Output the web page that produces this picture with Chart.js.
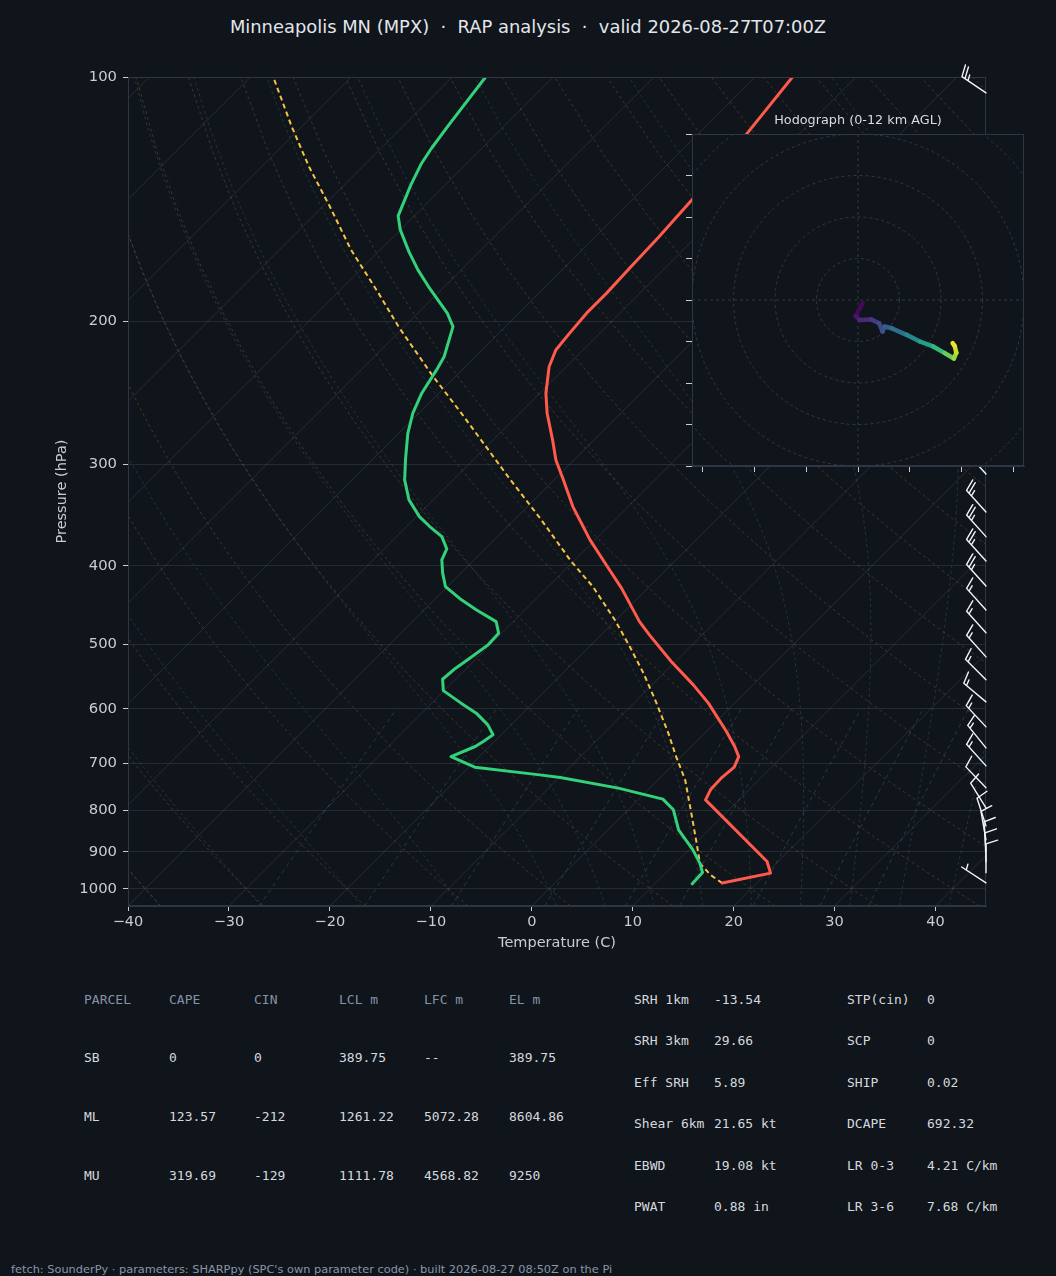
<!DOCTYPE html>
<html>
<head>
<meta charset="utf-8">
<script src="https://cdn.jsdelivr.net/npm/chart.js@4.4.1/dist/chart.umd.min.js"></script>
<style>
  html, body { margin: 0; padding: 0; background: #10141b; }
  body { width: 1056px; height: 1276px; position: relative; overflow: hidden;
         font-family: "DejaVu Sans", sans-serif; color: #d8dce3; }
  canvas { position: absolute; }
  #skew { left: 0; top: 0; }
  #hodo { left: 682px; top: 126px; }
  .t { position: absolute; white-space: pre; }
  .mono { font-family: "DejaVu Sans Mono", monospace; font-size: 13px; line-height: 16px; }
  #title { left: 0; width: 1056px; top: 16px; text-align: center; font-size: 17.9px; line-height: 22px; color: #e2e6ec; }
  #hodoTitle { left: 692px; width: 332px; top: 112px; text-align: center; font-size: 12.8px; line-height: 16px; color: #d8dce3; }
  #footer { left: 11px; top: 1262px; font-size: 11.35px; line-height: 14px; color: #8a96a6; }
</style>
</head>
<body>
<div id="title" class="t">Minneapolis MN (MPX)  ·  RAP analysis  ·  valid 2026-08-27T07:00Z</div>
<canvas id="skew" width="1056" height="960"></canvas>
<div id="hodoTitle" class="t">Hodograph (0-12 km AGL)</div>
<canvas id="hodo" width="350" height="350"></canvas>
<div id="tables"></div>
<div id="footer" class="t">fetch: SounderPy · parameters: SHARPpy (SPC's own parameter code) · built 2026-08-27 08:50Z on the Pi</div>

<script>
// ---- sounding ----
const tempPres = [983.9, 956.5, 925.5, 777.0, 755.3, 729.4, 708.2, 687.3, 667.9, 640.1, 590.6, 560.8,
                  524.9, 486.7, 468.7, 426.2, 399.1, 371.7, 338.2, 312.1, 296.3, 280.0, 259.5, 245.2,
                  227.5, 216.9, 206.9, 195.4, 184.6, 172.0, 157.3, 141.8, 117.5, 100.0];
const tempC = [16.6, 20.4, 18.9, 6.7, 6.2, 6.1, 6.3, 5.7, 4.3, 2.0, -2.6, -5.9,
               -10.4, -15.2, -17.5, -22.6, -26.4, -30.5, -35.5, -39.3, -41.8, -44.1, -47.3, -49.4,
               -51.7, -52.7, -53.0, -53.3, -53.3, -53.5, -53.7, -54.1, -55.2, -56.3];

const dewPres = [985.9, 954.9, 929.7, 895.4, 846.0, 799.2, 775.4, 751.6, 729.4, 723.9, 708.2, 687.3,
                 667.9, 658.5, 646.1, 628.1, 607.6, 590.6, 570.0, 551.9, 534.9, 519.9, 500.6, 484.4,
                 468.7, 453.4, 440.6, 424.3, 408.5, 393.4, 381.3, 368.3, 357.9, 348.0, 331.8, 313.6,
                 296.3, 274.8, 259.5, 245.2, 228.5, 221.1, 203.0, 195.4, 181.2, 172.8, 164.1, 154.3,
                 148.3, 135.9, 127.7, 122.4, 114.6, 100.0];
const dewC = [13.7, 13.6, 12.4, 10.4, 7.0, 4.5, 2.4, -3.1, -9.9, -12.2, -19.4, -22.8,
              -21.4, -21.1, -20.8, -22.3, -24.6, -27.1, -30.1, -31.3, -31.1, -30.7, -30.2, -30.3,
              -31.7, -34.8, -37.3, -40.2, -41.8, -43.2, -43.8, -45.5, -47.7, -49.7, -52.4, -54.8,
              -56.7, -59.1, -60.6, -61.7, -62.6, -63.1, -65.2, -67.1, -71.6, -74.3, -77.0, -80.0,
              -81.6, -83.4, -84.5, -85.0, -85.6, -86.7];

const parcelPres = [983.9, 961.1, 929.7, 887.1, 806.7, 734.2, 687.3, 643.0, 585.1, 542.5, 503.0, 466.5,
                    424.3, 395.3, 349.5, 312.1, 259.5, 232.8, 203.0, 184.6, 163.3, 144.4, 129.0, 115.1, 100.7];
const parcelC = [16.6, 14.6, 12.4, 10.5, 6.6, 2.7, -0.5, -3.6, -8.2, -12.0, -16.0, -20.1,
                 -25.6, -30.2, -37.6, -44.6, -55.8, -62.5, -70.6, -75.9, -82.9, -89.3, -95.3, -101.0, -107.4];

// wind barbs: pressure (hPa), direction (deg), speed (kt)
const barbPres = [104.6, 308.4, 343.4, 368.3, 394.6, 423.6, 453.4, 483.8, 518.0, 552.8, 588.5, 631.7,
                  670.6, 705.6, 750.8, 794.8, 836.5, 870.4, 898.0, 926.3, 955.7, 983.1];
const barbDir = [304, 318, 318, 318, 318, 318, 318, 318, 318, 315, 310, 317,
                 321, 318, 316, 328, 342, 350, 356, 358, 0, 303];
const barbKt = [25, 25, 25, 25, 25, 25, 15, 15, 15, 15, 15, 15,
                15, 15, 10, 10, 10, 10, 10, 10, 10, 5];

// hodograph (kt) and height (km AGL)
const hodoU = [1.1, -0.6, 0.4, 3.2, 5.1, 5.9, 6.4, 8.1, 11.7, 14.9, 18.1, 20.9, 23.1, 23.7, 23.3, 22.8];
const hodoV = [-0.8, -3.9, -4.8, -4.7, -5.6, -7.6, -6.4, -6.8, -8.4, -10.0, -11.2, -12.8, -14.1, -12.7, -11.1, -10.4];
const hodoKm = [0, 0.5, 1.0, 1.8, 2.4, 2.9, 3.2, 3.8, 5.0, 6.2, 7.4, 8.6, 9.8, 10.6, 11.4, 12.0];

// tick labels
const xTicks = [-40, -30, -20, -10, 0, 10, 20, 30, 40];
const pTicks = [100, 200, 300, 400, 500, 600, 700, 800, 900, 1000];
const hodoXTicks = [-37.5, -25, -12.5, 0, 12.5, 25, 37.5];
const hodoYTicks = [-40, -30, -20, -10, 0, 10, 20, 30, 40];
const hodoRings = [10, 20, 30, 40, 50];

// parameter tables
const parcelHeaders = ['PARCEL', 'CAPE', 'CIN', 'LCL m', 'LFC m', 'EL m'];
const parcelRows = [
  ['SB', '0', '0', '389.75', '--', '389.75'],
  ['ML', '123.57', '-212', '1261.22', '5072.28', '8604.86'],
  ['MU', '319.69', '-129', '1111.78', '4568.82', '9250']
];
const indexNamesA = ['SRH 1km', 'SRH 3km', 'Eff SRH', 'Shear 6km', 'EBWD', 'PWAT'];
const indexValsA = ['-13.54', '29.66', '5.89', '21.65 kt', '19.08 kt', '0.88 in'];
const indexNamesB = ['STP(cin)', 'SCP', 'SHIP', 'DCAPE', 'LR 0-3', 'LR 3-6'];
const indexValsB = ['0', '0', '0.02', '692.32', '4.21 C/km', '7.68 C/km'];

// ---- styling ----
const BG = '#10141b';
const SPINE = '#2d3642';
const GRID = '#242b35';
const TICK = '#c8cdd5';
const FONT = '"DejaVu Sans", sans-serif';

// ---- skew geometry ----
const T_MIN = -40, T_MAX = 45, P_TOP = 100, P_BOT = 1050;
const PLOT_W = 858, PLOT_H = 829;
// degrees C of shift per decade of pressure so isotherms run at 45 degrees
const SKEW = (PLOT_H / Math.log10(P_BOT / P_TOP)) / (PLOT_W / (T_MAX - T_MIN));
function skewX(t, p) { return t + SKEW * Math.log10(P_BOT / p); }
function profile(pres, vals) { return pres.map((p, i) => ({ x: skewX(vals[i], p), y: p })); }

// ---- thermodynamic background lines ----
const RD = 287.04749, CPD = 1004.6662, LV = 2.50084e6, EPS = 0.6219569;
function satVap(tc) { return 6.112 * Math.exp(17.67 * tc / (tc + 243.5)); }

function dryAdiabat(t0) {
  const pts = [];
  for (let i = 0; i <= 40; i++) {
    const p = P_BOT - (P_BOT - P_TOP) * i / 40;
    const t = (t0 + 273.15) * Math.pow(p / 1000, RD / CPD) - 273.15;
    pts.push({ x: skewX(t, p), y: p });
  }
  return pts;
}

function moistRate(p, T) {
  const es = satVap(T - 273.15);
  const rs = EPS * es / (p - es);
  return (RD * T + LV * rs) / (CPD + LV * LV * rs * EPS / (RD * T * T)) / p;
}
function moistAdiabat(t0) {
  const step = (p, T, dp) => {
    const k1 = moistRate(p, T);
    const k2 = moistRate(p + dp / 2, T + dp / 2 * k1);
    const k3 = moistRate(p + dp / 2, T + dp / 2 * k2);
    const k4 = moistRate(p + dp, T + dp * k3);
    return T + dp / 6 * (k1 + 2 * k2 + 2 * k3 + k4);
  };
  const up = [], down = [];
  let T = t0 + 273.15;
  for (let p = 1000; p > P_TOP; p -= 5) {
    T = step(p, T, -5);
    if ((1000 - p) % 15 === 10) up.push({ x: skewX(T - 273.15, p - 5), y: p - 5 });
  }
  T = t0 + 273.15;
  for (let p = 1000; p < P_BOT; p += 5) {
    T = step(p, T, 5);
    down.push({ x: skewX(T - 273.15, p + 5), y: p + 5 });
  }
  return down.reverse().concat([{ x: skewX(t0, 1000), y: 1000 }], up);
}

function mixingLine(w) {
  const pts = [];
  for (let i = 0; i <= 10; i++) {
    const p = P_BOT - (P_BOT - 600) * i / 10;
    const e = p * w / (EPS + w);
    const l = Math.log(e / 6.112);
    pts.push({ x: skewX(243.5 * l / (17.67 - l), p), y: p });
  }
  return pts;
}

function bgLine(data, color, dash) {
  return { data, showLine: true, borderColor: color, borderWidth: 1, borderDash: dash,
           pointRadius: 0, order: 10, tension: 0 };
}

const datasets = [
  { data: profile(tempPres, tempC), showLine: true, borderColor: '#ff5a4b', borderWidth: 3,
    pointRadius: 0, order: 0, borderJoinStyle: 'round', borderCapStyle: 'round' },
  { data: profile(dewPres, dewC), showLine: true, borderColor: '#33d17a', borderWidth: 3,
    pointRadius: 0, order: 1, borderJoinStyle: 'round', borderCapStyle: 'round' },
  { data: profile(parcelPres, parcelC), showLine: true, borderColor: '#f6c344', borderWidth: 2,
    borderDash: [5, 3.5], pointRadius: 0, order: 2 }
];
for (let t = -120; t <= 40; t += 10) {
  datasets.push(bgLine([{ x: skewX(t, P_BOT), y: P_BOT }, { x: skewX(t, P_TOP), y: P_TOP }], 'rgba(120,135,155,0.22)', []));
}
for (let t = -40; t <= 240; t += 10) datasets.push(bgLine(dryAdiabat(t), 'rgba(145,110,60,0.38)', [3, 3]));
const moistStarts = [-40, -30, -20, -10];
for (let t = 0; t <= 95; t += 5) moistStarts.push(t);
moistStarts.forEach(t => datasets.push(bgLine(moistAdiabat(t), 'rgba(65,100,125,0.40)', [3, 3])));
[0.0004, 0.001, 0.002, 0.004, 0.007, 0.01, 0.016, 0.024, 0.032]
  .forEach(w => datasets.push(bgLine(mixingLine(w), 'rgba(60,110,115,0.45)', [4, 4])));

// ---- wind barbs ----
function drawBarb(ctx, x, y, dir, spd) {
  const L = 29, h = 0.4 * L, w = 0.25 * L, sp = 0.125 * L;
  const a = dir * Math.PI / 180;
  const ux = Math.sin(a), uy = -Math.cos(a);   // toward where the wind comes from
  const px = -uy, py = ux;                      // barb side
  const at = d => [x + ux * d, y + uy * d];
  ctx.beginPath();
  ctx.moveTo(x, y);
  let tip = at(L);
  ctx.lineTo(tip[0], tip[1]);
  let s = Math.round(spd / 5) * 5;
  const flags = Math.floor(s / 50); s -= flags * 50;
  const fulls = Math.floor(s / 10); s -= fulls * 10;
  const half = s >= 5;
  let off = L;
  for (let i = 0; i < flags; i++) {
    const b = at(off), c = at(off - w);
    ctx.moveTo(b[0], b[1]);
    ctx.lineTo(b[0] + px * h + ux * (-w / 2), b[1] + py * h + uy * (-w / 2));
    ctx.lineTo(c[0], c[1]);
    off -= w + sp;
  }
  for (let i = 0; i < fulls; i++) {
    const b = at(off), e = at(off + w / 2);
    ctx.moveTo(b[0], b[1]);
    ctx.lineTo(e[0] + px * h, e[1] + py * h);
    off -= sp;
  }
  if (half) {
    if (off === L) off -= 1.5 * sp;
    const b = at(off), e = at(off + w / 4);
    ctx.moveTo(b[0], b[1]);
    ctx.lineTo(e[0] + px * h / 2, e[1] + py * h / 2);
  }
  ctx.stroke();
}

const skewFrame = {
  id: 'skewFrame',
  afterDatasetsDraw(chart) {
    const { ctx, chartArea: ca } = chart;
    const ys = chart.scales.y;
    ctx.save();
    ctx.strokeStyle = SPINE;
    ctx.lineWidth = 1;
    ctx.strokeRect(ca.left + 0.5, ca.top + 0.5, ca.right - ca.left - 1, ca.bottom - ca.top - 1);
    ctx.strokeStyle = '#f2f4f7';
    ctx.lineWidth = 1.4;
    ctx.lineCap = 'round';
    barbPres.forEach((p, i) => drawBarb(ctx, ca.right, ys.getPixelForValue(p), barbDir[i], barbKt[i]));
    ctx.restore();
  }
};

const minus = v => (v < 0 ? '\u2212' + Math.abs(v) : String(v));

new Chart(document.getElementById('skew'), {
  type: 'scatter',
  data: { datasets },
  options: {
    responsive: false, animation: false, events: [], devicePixelRatio: 1,
    layout: { padding: { top: 77, right: 1056 - 128 - PLOT_W, left: 0, bottom: 0 } },
    plugins: { legend: { display: false }, tooltip: { enabled: false } },
    scales: {
      x: {
        type: 'linear', min: T_MIN, max: T_MAX,
        afterBuildTicks: s => { s.ticks = xTicks.map(v => ({ value: v })); },
        afterFit: s => { s.height = 960 - 77 - PLOT_H; },
        grid: { drawOnChartArea: false, tickLength: 5, tickColor: TICK },
        border: { color: SPINE },
        ticks: { color: TICK, font: { family: FONT, size: 14.5 }, padding: 3, maxRotation: 0, callback: minus },
        title: { display: true, text: 'Temperature (C)', color: TICK, font: { family: FONT, size: 14.5 },
                 padding: { top: 0, bottom: 8 } }
      },
      y: {
        type: 'logarithmic', reverse: true, min: P_TOP, max: P_BOT,
        afterBuildTicks: s => { s.ticks = pTicks.map(v => ({ value: v })); },
        afterFit: s => { s.width = 128; },
        grid: { color: GRID, tickLength: 5, tickColor: TICK },
        border: { color: SPINE },
        ticks: { color: TICK, font: { family: FONT, size: 14.8 }, padding: 6, callback: v => String(v) },
        title: { display: true, text: 'Pressure (hPa)', color: TICK, font: { family: FONT, size: 14.5 },
                 padding: { top: 54, bottom: 0 } }
      }
    }
  },
  plugins: [skewFrame]
});

// ---- hodograph ----
const VIRIDIS = ['#440154', '#482878', '#3e4989', '#31688e', '#26828e', '#1f9e89', '#35b779', '#6ece58', '#b5de2b', '#fde725'];
function hex(c) { return [1, 3, 5].map(i => parseInt(c.substr(i, 2), 16)); }
function viridis(f) {
  f = Math.max(0, Math.min(1, f));
  const n = VIRIDIS.length - 1;
  const i = Math.min(n - 1, Math.floor(f * n));
  const t = f * n - i;
  const a = hex(VIRIDIS[i]), b = hex(VIRIDIS[i + 1]);
  return 'rgb(' + a.map((v, k) => Math.round(v + (b[k] - v) * t)).join(',') + ')';
}

const hodoFrame = {
  id: 'hodoFrame',
  beforeDraw(chart) {
    const { ctx, chartArea: ca } = chart;
    ctx.save();
    ctx.fillStyle = BG;
    ctx.fillRect(ca.left, ca.top, ca.right - ca.left, ca.bottom - ca.top);
    ctx.restore();
  },
  beforeDatasetsDraw(chart) {
    const { ctx, chartArea: ca, scales: { x, y } } = chart;
    const cx = x.getPixelForValue(0), cy = y.getPixelForValue(0);
    ctx.save();
    ctx.beginPath();
    ctx.rect(ca.left, ca.top, ca.right - ca.left, ca.bottom - ca.top);
    ctx.clip();
    ctx.strokeStyle = '#2f3947';
    ctx.lineWidth = 1;
    ctx.setLineDash([3, 3]);
    hodoRings.forEach(r => {
      ctx.beginPath();
      ctx.arc(cx, cy, Math.abs(y.getPixelForValue(r) - cy), 0, Math.PI * 2);
      ctx.stroke();
    });
    ctx.beginPath();
    ctx.moveTo(ca.left, cy); ctx.lineTo(ca.right, cy);
    ctx.moveTo(cx, ca.top); ctx.lineTo(cx, ca.bottom);
    ctx.stroke();
    ctx.restore();
  },
  afterDraw(chart) {
    const { ctx, chartArea: ca } = chart;
    ctx.save();
    ctx.strokeStyle = SPINE;
    ctx.lineWidth = 1;
    ctx.strokeRect(ca.left + 0.5, ca.top + 0.5, ca.right - ca.left - 1, ca.bottom - ca.top - 1);
    ctx.restore();
  }
};

new Chart(document.getElementById('hodo'), {
  type: 'scatter',
  data: {
    datasets: [{
      data: hodoU.map((u, i) => ({ x: u, y: hodoV[i] })),
      showLine: true, borderWidth: 4.5, pointRadius: 0, borderCapStyle: 'round', borderJoinStyle: 'round',
      segment: { borderColor: c => viridis((hodoKm[c.p0DataIndex] + hodoKm[c.p1DataIndex]) / 24) }
    }]
  },
  options: {
    responsive: false, animation: false, events: [], devicePixelRatio: 1,
    layout: { padding: { top: 8, right: 8, left: 0, bottom: 0 } },
    plugins: { legend: { display: false }, tooltip: { enabled: false } },
    scales: {
      x: {
        type: 'linear', min: -40, max: 40,
        afterBuildTicks: s => { s.ticks = hodoXTicks.map(v => ({ value: v })); },
        afterFit: s => { s.height = 10; },
        grid: { drawOnChartArea: false, tickLength: 6, tickColor: TICK },
        border: { color: SPINE },
        ticks: { display: false }
      },
      y: {
        type: 'linear', min: -40, max: 40,
        afterBuildTicks: s => { s.ticks = hodoYTicks.map(v => ({ value: v })); },
        afterFit: s => { s.width = 10; },
        grid: { drawOnChartArea: false, tickLength: 6, tickColor: TICK },
        border: { color: SPINE },
        ticks: { display: false }
      }
    }
  },
  plugins: [hodoFrame]
});

// ---- tables ----
const tables = document.getElementById('tables');
function put(text, x, yc, color) {
  const d = document.createElement('div');
  d.className = 't mono';
  d.textContent = text;
  d.style.left = x + 'px';
  d.style.top = (yc - 8) + 'px';
  d.style.color = color;
  tables.appendChild(d);
}
const parcelCols = [84, 169, 254, 339, 424, 509];
const parcelRowY = [1000, 1058, 1117, 1176];
parcelHeaders.forEach((h, j) => put(h, parcelCols[j], parcelRowY[0], '#8593a6'));
parcelRows.forEach((r, i) => r.forEach((v, j) => put(v, parcelCols[j], parcelRowY[i + 1], '#d5d9df')));
const indexRowY = [1000, 1041, 1083, 1124, 1166, 1207];
indexNamesA.forEach((n, i) => {
  put(n, 634, indexRowY[i], '#d5d9df');
  put(indexValsA[i], 714, indexRowY[i], '#d5d9df');
  put(indexNamesB[i], 847, indexRowY[i], '#d5d9df');
  put(indexValsB[i], 927, indexRowY[i], '#d5d9df');
});
</script>
</body>
</html>
